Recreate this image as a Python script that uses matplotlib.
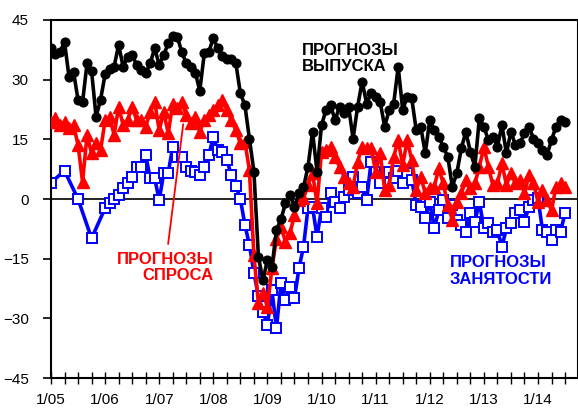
import numpy as np
import matplotlib.pyplot as plt

# monthly values, 1/05 .. 7/14
output_fc = [37.9, 36.4, 37.0, 39.5, 30.7, 32.0, 24.9, 24.3, 34.1, 32.2, 20.7, 25.0,
             31.3, 32.7, 33.3, 38.7, 33.3, 35.8, 36.2, 33.7, 32.4, 31.6, 34.1, 37.9,
             33.7, 36.2, 39.1, 41.0, 40.8, 37.0, 34.1, 33.2, 31.8, 27.2, 36.6, 37.0,
             40.4, 37.9, 36.0, 35.3, 35.1, 34.1, 26.6, 23.6, 15.2, 6.9, -14.5, -20.4,
             -15.3, -17.2, -7.8, -5.1, -1.1, 1.0, -1.9, 1.4, 2.9, 8.1, 16.9, 6.9,
             18.6, 22.4, 23.6, 19.8, 23.2, 21.5, 23.2, 15.2, 23.2, 29.5, 24.0, 26.6,
             25.7, 24.4, 18.2, 22.4, 24.0, 33.2, 22.4, 25.7, 25.3, 17.3, 18.2, 11.5,
             19.8, 17.3, 15.7, 13.1, 10.6, 3.1, 6.5, 12.7, 16.9, 11.9, 8.1, 20.3,
             18.2, 14.8, 15.7, 13.1, 18.6, 11.5, 16.9, 13.6, 14.0, 16.5, 18.2, 15.2,
             14.0, 12.3, 11.1, 14.8, 18.2, 19.8, 19.4]

demand_fc = [19.4, 20.3, 18.6, 19.4, 17.8, 18.6, 13.6, 4.3, 16.1, 11.5, 14.0, 12.3,
             19.8, 20.7, 16.1, 23.2, 18.6, 19.8, 23.2, 19.8, 19.8, 18.2, 21.9, 24.4,
             17.3, 21.9, 16.5, 24.0, 22.8, 24.4, 21.1, 19.0, 20.7, 16.9, 19.8, 21.1,
             22.4, 23.6, 24.9, 22.4, 19.8, 17.3, 14.0, 14.4, 7.3, -14.1, -26.2, -23.7,
             -27.1, -17.4, -10.0, -7.0, -10.7, -8.6, -4.0, -0.3, 0.2, 3.5, 6.5, -1.1,
             11.9, 12.3, 13.1, 10.6, 8.1, 5.6, 3.9, 3.1, 9.4, 13.1, 12.7, 12.7,
             6.9, 11.5, 2.3, 3.5, 10.6, 14.8, 8.5, 14.8, 9.8, 2.3, 5.6, 1.4,
             2.7, 3.1, 7.7, 3.9, -1.5, -5.3, -0.7, 1.4, 4.8, 2.7, 3.9, 8.1,
             13.1, 8.1, 3.5, 3.9, 9.0, 3.5, 6.5, 3.9, 4.8, 1.4, 6.0, 3.9,
             -0.7, 2.3, -0.3, -2.8, 3.1, 3.9, 3.1]

nan = np.nan
# employment: quarterly during 2005, monthly afterwards
empl_fc = [4.1, nan, nan, 7.1, nan, nan, 0.0, nan, nan, -9.9, nan, nan,
           -2.3, -0.9, 0.0, 1.0, 2.7, 4.1, 5.6, 8.0, 8.1, 11.1, 5.2, 5.2,
           -0.3, 6.5, 6.6, 13.1, 10.6, 10.6, 8.1, 7.1, 6.9, 6.0, 8.1, 11.1,
           15.5, 12.3, 11.9, 9.8, 6.0, 3.3, 0.0, -6.5, -11.5, -18.5, -24.5, -28.3,
           -31.7, -23.0, -32.5, -21.2, -25.5, -22.0, -24.9, -17.4, -12.0, -2.3, -2.0, -9.5,
           -2.3, -4.4, 1.4, -0.7, -2.3, 0.6, 2.3, 5.6, 1.4, 3.1, -0.3, 9.4,
           6.9, 3.9, 6.5, 6.9, 5.2, 7.0, 3.9, 6.5, 4.8, -1.5, -1.9, -4.9,
           -0.7, -7.4, -2.8, -0.3, -4.9, -1.5, -5.3, -6.5, -8.2, -3.6, -5.7, -0.7,
           -7.4, -6.1, -8.2, -7.8, -12.0, -7.4, -6.1, -3.6, -2.8, -5.7, -1.9, -0.3,
           0.2, -7.8, -8.2, -10.3, -7.8, -8.2, -3.6]

year_labels = ['1/05', '1/06', '1/07', '1/08', '1/09', '1/10', '1/11', '1/12', '1/13', '1/14']

plt.rcParams['font.family'] = ['Liberation Sans', 'DejaVu Sans']

months = np.arange(len(output_fc))
empl = np.array(empl_fc, dtype=float)
ok = ~np.isnan(empl)

fig = plt.figure(figsize=(5.78, 4.08), dpi=100)
ax = fig.add_axes([0.0882, 0.0735, 0.912, 0.8775])

ax.axhline(0, color='black', lw=1.2, zorder=1)

ax.plot(months[ok], empl[ok], color='#0000ff', lw=2.6, marker='s', ms=7.2,
        mfc='white', mec='#0000ff', mew=1.4, zorder=2)
ax.plot(months, demand_fc, color='#ff0000', lw=2.6, marker='^', ms=8.5,
        mfc='#ff0000', mec='#ff0000', zorder=3)
ax.plot(months, output_fc, color='black', lw=2.6, marker='o', ms=6.3,
        mfc='black', mec='black', zorder=4)

ax.set_xlim(0, 116.9)
ax.set_ylim(-45, 45)
ax.set_yticks(np.arange(-45, 46, 15))
ax.set_xticks(np.arange(0, 12 * len(year_labels), 12))
ax.set_xticklabels(year_labels)
ax.set_xticks(np.arange(0, 117, 3), minor=True)

ax.tick_params(axis='y', direction='out', length=6, width=1.2, labelsize=11, pad=10)
ax.tick_params(axis='x', which='both', direction='inout', length=8, width=1.0,
               labelsize=11, pad=7)
for s in ax.spines.values():
    s.set_linewidth(1.5)

ax.text(55.7, 39.3, 'ПРОГНОЗЫ\nВЫПУСКА', fontsize=12, fontweight='bold',
        color='black', ha='left', va='top', linespacing=1.1, zorder=5)
ax.text(36.0, -13.2, 'ПРОГНОЗЫ\nСПРОСА', fontsize=12, fontweight='bold',
        color='#ff0000', ha='right', va='top', multialignment='right',
        linespacing=1.1, zorder=5)
ax.text(88.5, -14.2, 'ПРОГНОЗЫ\nЗАНЯТОСТИ', fontsize=12, fontweight='bold',
        color='#0000ff', ha='left', va='top', linespacing=1.1, zorder=5)
ax.annotate('', xy=(29.4, 19.5), xytext=(25.9, -12.0),
            arrowprops=dict(arrowstyle='-', color='#ff0000', lw=1.3), zorder=5)

plt.savefig('out.png', dpi=100)
